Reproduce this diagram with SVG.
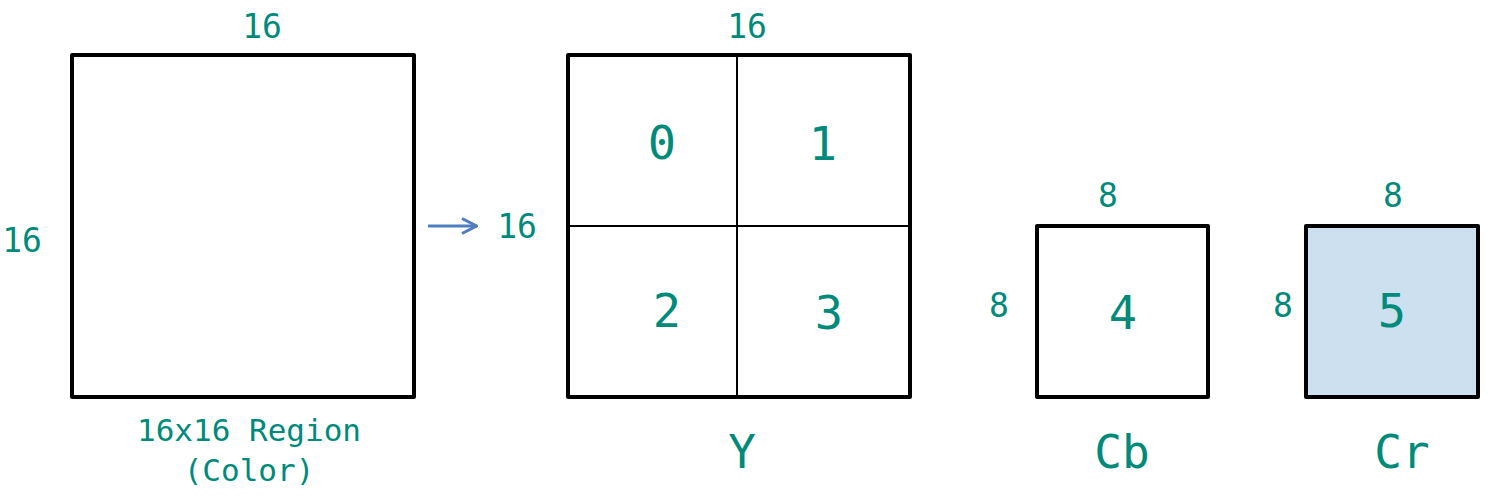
<svg xmlns="http://www.w3.org/2000/svg" width="1492" height="502" viewBox="0 0 1492 502">
<defs>
<style>
.t{font-family:"DejaVu Sans Mono","Liberation Mono",monospace;fill:#008A7A;text-anchor:middle}
.dim{font-size:33px}
.num{font-size:47px}
.lbl{font-size:46px}
.cap{font-size:31px}
.box{fill:#fff;stroke:#000;stroke-width:4;stroke-linejoin:round}
.grid{stroke:#000;stroke-width:2;fill:none}
</style>
<marker id="ah" viewBox="0 0 18 18" refX="17" refY="9" markerWidth="18" markerHeight="18" markerUnits="userSpaceOnUse" orient="auto">
<path d="M2,1.5 L16.5,9 L2,16.5" fill="none" stroke="#4F7EC0" stroke-width="3"/>
</marker>
</defs>
<rect width="1492" height="502" fill="#fff"/>
<g id="region">
<rect class="box" x="72" y="55" width="342" height="342"/>
<text class="t dim" x="262" y="38">16</text>
<text class="t dim" x="22" y="252">16</text>
<text class="t cap" x="249" y="441">16x16 Region</text>
<text class="t cap" x="249" y="481">(Color)</text>
</g>
<g id="connectors">
<line x1="428" y1="226" x2="477" y2="226" stroke="#4F7EC0" stroke-width="3" marker-end="url(#ah)"/>
</g>
<g id="luma">
<rect class="box" x="568" y="55" width="342" height="342"/>
<line class="grid" x1="737" y1="55" x2="737" y2="397"/>
<line class="grid" x1="568" y1="226" x2="910" y2="226"/>
<text class="t dim" x="747" y="38">16</text>
<text class="t dim" x="517" y="238">16</text>
<text class="t num" x="662" y="159">0</text>
<text class="t num" x="823" y="160">1</text>
<text class="t num" x="667" y="327">2</text>
<text class="t num" x="829" y="329">3</text>
<text class="t lbl" x="742" y="468">Y</text>
</g>
<g id="cb">
<rect class="box" x="1037" y="226" width="171" height="171"/>
<text class="t dim" x="1108" y="207">8</text>
<text class="t dim" x="999" y="317">8</text>
<text class="t num" x="1123" y="329">4</text>
<text class="t lbl" x="1122" y="468">Cb</text>
</g>
<g id="cr">
<rect class="box" x="1306" y="226" width="172" height="171" style="fill:#CCE0F0"/>
<text class="t dim" x="1393" y="207">8</text>
<text class="t dim" x="1283" y="317">8</text>
<text class="t num" x="1392" y="327">5</text>
<text class="t lbl" x="1402" y="468">Cr</text>
</g>
</svg>
